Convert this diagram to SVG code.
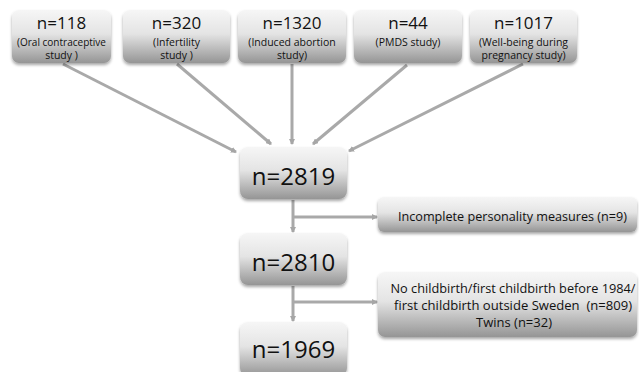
<svg xmlns="http://www.w3.org/2000/svg" width="639" height="372" viewBox="0 0 639 372">
<defs>
<linearGradient id="g" x1="0" y1="0" x2="0" y2="1">
<stop offset="0" stop-color="#f6f6f6"/>
<stop offset="0.45" stop-color="#e4e4e4"/>
<stop offset="1" stop-color="#959595"/>
</linearGradient>
<filter id="sh" x="-10%" y="-10%" width="120%" height="140%">
<feDropShadow dx="0" dy="2" stdDeviation="1.5" flood-color="#000" flood-opacity="0.35"/>
</filter>
<marker id="ah" markerWidth="6" markerHeight="6" refX="5" refY="3" orient="auto" markerUnits="userSpaceOnUse">
<path d="M0,0 L6,3 L0,6 Z" fill="#a6a6a6"/>
</marker>
</defs>
<style>
.box{fill:url(#g);filter:url(#sh);}
.t{font-family:"Open Sans","Liberation Sans",sans-serif;fill:#111;text-anchor:middle;}
.n{font-size:17px;}
.s{font-size:10.5px;}
.big{font-size:24px;}
.m{font-size:12.5px;}
.ca{fill:none;stroke:#a9a9a9;stroke-width:3;marker-end:url(#ah);}
</style>
<rect width="639" height="372" fill="#fff"/>
<g id="connectors">
<line class="ca" x1="63" y1="64" x2="236" y2="152"/>
<line class="ca" x1="177" y1="64" x2="271" y2="144"/>
<line class="ca" x1="292" y1="64" x2="292" y2="144"/>
<line class="ca" x1="407" y1="65" x2="313" y2="144"/>
<line class="ca" x1="523" y1="64" x2="349" y2="151"/>
<line class="ca" x1="293" y1="200" x2="293" y2="232"/>
<line class="ca" x1="293" y1="217" x2="377" y2="217"/>
<line class="ca" x1="293" y1="286" x2="293" y2="321"/>
<line class="ca" x1="293" y1="302" x2="377" y2="302"/>
</g>
<g id="n118">
<rect class="box" x="12" y="10" width="99" height="53" rx="7"/>
<text class="t n" x="61.5" y="29">n=118</text>
<text class="t s" x="61.5" y="46" textLength="89" lengthAdjust="spacingAndGlyphs">(Oral contraceptive</text>
<text class="t s" x="61.5" y="59">study )</text>
</g>
<g id="n320">
<rect class="box" x="123" y="10" width="107" height="53" rx="7"/>
<text class="t n" x="176.5" y="29">n=320</text>
<text class="t s" x="176.5" y="46">(Infertility</text>
<text class="t s" x="176.5" y="59">study )</text>
</g>
<g id="n1320">
<rect class="box" x="238" y="10" width="108" height="53" rx="7"/>
<text class="t n" x="292" y="29">n=1320</text>
<text class="t s" x="292" y="46">(Induced abortion</text>
<text class="t s" x="292" y="59">study)</text>
</g>
<g id="n44">
<rect class="box" x="354" y="10" width="108" height="53" rx="7"/>
<text class="t n" x="408" y="29">n=44</text>
<text class="t s" x="408" y="46">(PMDS study)</text>
</g>
<g id="n1017">
<rect class="box" x="470" y="10" width="107" height="53" rx="7"/>
<text class="t n" x="523.5" y="29">n=1017</text>
<text class="t s" x="523.5" y="46">(Well-being during</text>
<text class="t s" x="523.5" y="59">pregnancy study)</text>
</g>
<g id="n2819">
<rect class="box" x="240" y="147" width="107" height="52" rx="8"/>
<text class="t big" x="293.5" y="185">n=2819</text>
</g>
<g id="n2810">
<rect class="box" x="240" y="233" width="107" height="52" rx="8"/>
<text class="t big" x="293.5" y="271">n=2810</text>
</g>
<g id="n1969">
<rect class="box" x="240" y="322" width="107" height="54" rx="8"/>
<text class="t big" x="293.5" y="358">n=1969</text>
</g>
<g id="excl1">
<rect class="box" x="378" y="197" width="259" height="35" rx="6"/>
<text class="t m" x="512.5" y="221" textLength="229" lengthAdjust="spacingAndGlyphs">Incomplete personality measures (n=9)</text>
</g>
<g id="excl2">
<rect class="box" x="378" y="272" width="259" height="65" rx="7"/>
<text class="t m" x="513" y="293" textLength="245" lengthAdjust="spacingAndGlyphs">No childbirth/first childbirth before 1984/</text>
<text class="t m" x="513" y="310" textLength="238" lengthAdjust="spacingAndGlyphs" xml:space="preserve">first childbirth outside Sweden  (n=809)</text>
<text class="t m" x="514" y="327" textLength="76" lengthAdjust="spacingAndGlyphs">Twins (n=32)</text>
</g>
</svg>
